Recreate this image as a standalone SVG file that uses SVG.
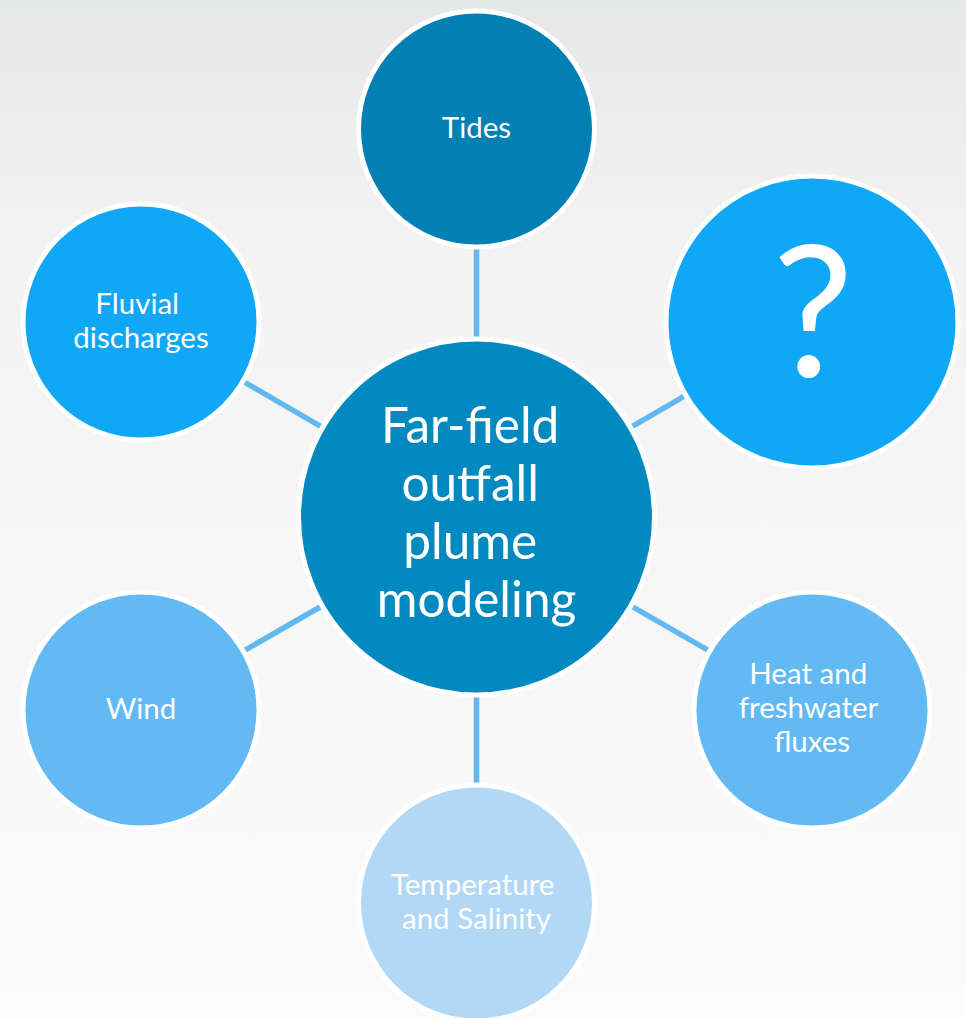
<svg xmlns="http://www.w3.org/2000/svg" width="966" height="1018" viewBox="0 0 966 1018">
  <defs>
    <linearGradient id="bg" x1="0" y1="0" x2="0" y2="1">
      <stop offset="0" stop-color="#e6e7e7"/>
      <stop offset="0.25" stop-color="#f3f3f3"/>
      <stop offset="1" stop-color="#fbfbfb"/>
    </linearGradient>
    <style>
      .node { stroke: #ffffff; stroke-width: 5; }
      .lbl { font-family: Lato, "Liberation Sans", sans-serif; fill: #ffffff; text-anchor: middle; font-size: 29.5px; }
      .link { stroke: #62b9f2; stroke-width: 5.5; fill: none; }
    </style>
  </defs>

  <rect x="0" y="0" width="966" height="1018" fill="url(#bg)"/>

  <!-- spokes from the hub to each factor -->
  <g id="connectors">
    <line class="link" x1="476.5" y1="517" x2="476.5" y2="129"/>
    <line class="link" x1="476.5" y1="517" x2="812" y2="322"/>
    <line class="link" x1="476.5" y1="517" x2="812" y2="710"/>
    <line class="link" x1="476.5" y1="517" x2="476.5" y2="903"/>
    <line class="link" x1="476.5" y1="517" x2="141" y2="710"/>
    <line class="link" x1="476.5" y1="517" x2="141" y2="322"/>
  </g>

  <g id="hub">
    <circle class="node" cx="476.5" cy="517" r="178" fill="#028ac0"/>
    <text class="lbl" style="font-size:49.5px">
      <tspan x="476.5" y="443">Far-field</tspan>
      <tspan x="476.5" y="501">outfall</tspan>
      <tspan x="476.5" y="559">plume</tspan>
      <tspan x="476.5" y="617">modeling</tspan>
    </text>
  </g>

  <g id="tides">
    <circle class="node" cx="476.5" cy="129" r="118" fill="#0380b3"/>
    <text class="lbl" x="476.5" y="138">Tides</text>
  </g>

  <g id="unknown">
    <circle class="node" cx="812" cy="322" r="146" fill="#10a8f6"/>
    <text class="lbl" x="813" y="377" style="font-size:182px">?</text>
  </g>

  <g id="heat-freshwater">
    <circle class="node" cx="812" cy="710" r="118" fill="#62b9f3"/>
    <text class="lbl">
      <tspan x="812" y="684">Heat and</tspan>
      <tspan x="812" y="718">freshwater</tspan>
      <tspan x="812" y="752">fluxes</tspan>
    </text>
  </g>

  <g id="temperature-salinity">
    <circle class="node" cx="476.5" cy="903" r="118" fill="#b3d8f5"/>
    <text class="lbl">
      <tspan x="476.5" y="895">Temperature</tspan>
      <tspan x="476.5" y="929">and Salinity</tspan>
    </text>
  </g>

  <g id="wind">
    <circle class="node" cx="141" cy="710" r="118" fill="#62b9f3"/>
    <text class="lbl" x="141" y="719">Wind</text>
  </g>

  <g id="fluvial">
    <circle class="node" cx="141" cy="322" r="118" fill="#10a8f6"/>
    <text class="lbl">
      <tspan x="141" y="314">Fluvial</tspan>
      <tspan x="141" y="348">discharges</tspan>
    </text>
  </g>
</svg>
